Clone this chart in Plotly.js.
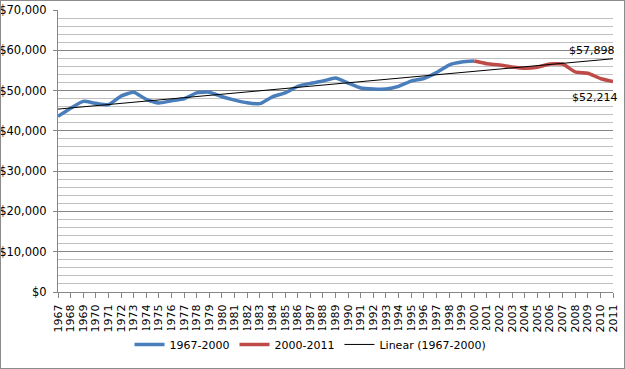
<!DOCTYPE html>
<html>
<head>
<meta charset="utf-8">
<script src="https://cdn.plot.ly/plotly-3.0.1.min.js"></script>
<style>
  html, body { margin: 0; padding: 0; background: #fff; }
  #wrap { position: relative; width: 625px; height: 369px; }
  #chart { width: 625px; height: 369px; }
  #frame { position: absolute; left: 0; top: 0; width: 623px; height: 367px; border: 1px solid #8c8c8c; pointer-events: none; }
</style>
</head>
<body>
<div id="wrap"><div id="chart"></div><div id="frame"></div></div>
<script>
const years1 = [1967,1968,1969,1970,1971,1972,1973,1974,1975,1976,1977,1978,1979,1980,1981,1982,1983,1984,1985,1986,1987,1988,1989,1990,1991,1992,1993,1994,1995,1996,1997,1998,1999,2000];
const values1 = [43585,45610,47317,46830,46500,48610,49590,47800,46900,47480,47970,49430,49590,48460,47640,47000,46750,48460,49430,51050,51790,52360,53100,51870,50650,50400,50400,51050,52360,53000,54460,56340,57070,57320];
const years2 = [2000,2001,2002,2003,2004,2005,2006,2007,2008,2009,2010,2011];
const values2 = [57320,56660,56340,55850,55530,55780,56590,56590,54630,54300,53000,52214];
const trendYears = [1967, 2011];
const trendValues = [45400, 57898];
const allYears = [1967,1968,1969,1970,1971,1972,1973,1974,1975,1976,1977,1978,1979,1980,1981,1982,1983,1984,1985,1986,1987,1988,1989,1990,1991,1992,1993,1994,1995,1996,1997,1998,1999,2000,2001,2002,2003,2004,2005,2006,2007,2008,2009,2010,2011];
const seriesNames = ['1967-2000', '2000-2011', 'Linear (1967-2000)'];
const endLabels = ['$57,898', '$52,214'];

const FONT = 'DejaVu Sans, sans-serif';

const traces = [
  { x: years1, y: values1, name: seriesNames[0], mode: 'lines', line: { color: '#4a7ebb', width: 3.5, shape: 'spline', smoothing: 0.5 } },
  { x: years2, y: values2, name: seriesNames[1], mode: 'lines', line: { color: '#be4b48', width: 3.5, shape: 'spline', smoothing: 0.5 } },
  { x: trendYears, y: trendValues, name: seriesNames[2], mode: 'lines', line: { color: '#000000', width: 1 } }
];

const layout = {
  width: 625, height: 369,
  margin: { l: 58, r: 12, t: 9.5, b: 74 },
  paper_bgcolor: '#ffffff', plot_bgcolor: '#ffffff',
  font: { family: FONT, size: 11, color: '#000' },
  showlegend: true,
  legend: { orientation: 'h', x: 0.455, xanchor: 'center', y: -0.186, yanchor: 'middle', font: { family: FONT, size: 11, color: '#000' }, itemwidth: 30, tracegroupgap: 0 },
  xaxis: {
    type: 'linear', range: [1967, 2011], tickmode: 'array', tickvals: allYears, ticktext: allYears.map(String),
    tickangle: -90, ticks: 'outside', ticklen: 5, tickcolor: '#868686', showgrid: false, zeroline: false,
    showline: true, linecolor: '#868686', linewidth: 1, ticklabelstandoff: 2, tickfont: { family: FONT, size: 11, color: '#000' }
  },
  yaxis: {
    range: [0, 70000], dtick: 10000, tick0: 0, tickprefix: '$', tickformat: ',d', ticks: 'outside', ticklen: 4, tickcolor: '#868686',
    showgrid: true, gridcolor: '#868686', gridwidth: 1, zeroline: false, showline: true, linecolor: '#868686', linewidth: 1,
    minor: { dtick: 2000, tick0: 0, showgrid: true, gridcolor: '#c0c0c0', gridwidth: 1 },
    ticklabelstandoff: 4,
    tickfont: { family: FONT, size: 11.5, color: '#000' }
  },
  annotations: [
    { x: trendYears[1], y: trendValues[1], text: endLabels[0], showarrow: false, xanchor: 'right', yanchor: 'middle', xshift: 4, yshift: 8, font: { family: FONT, size: 11, color: '#000' } },
    { x: years2[years2.length - 1], y: values2[values2.length - 1], text: endLabels[1], showarrow: false, xanchor: 'right', yanchor: 'middle', xshift: 7, yshift: -16, font: { family: FONT, size: 11, color: '#000' } }
  ]
};

Plotly.newPlot('chart', traces, layout, { displayModeBar: false, staticPlot: true });
</script>
</body>
</html>
